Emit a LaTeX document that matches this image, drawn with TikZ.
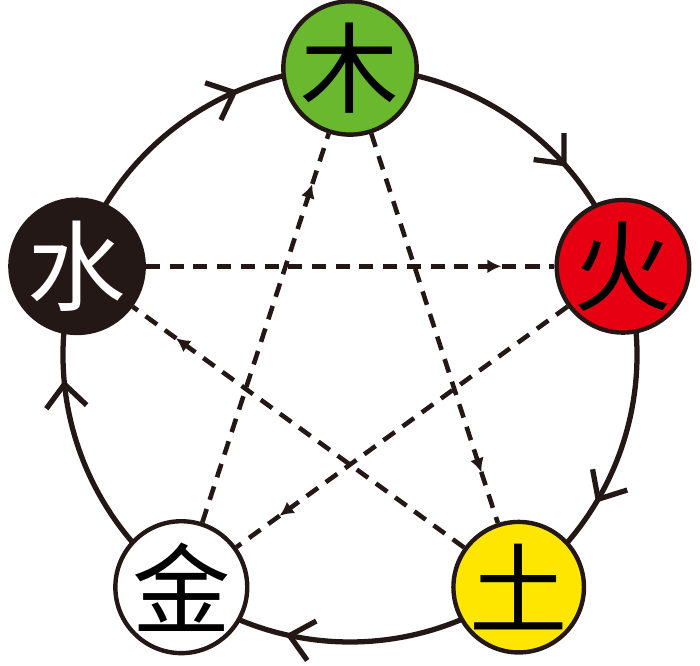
\documentclass[tikz,border=0pt]{standalone}
\usepackage{fontspec}
\newfontfamily\cjk{Noto Sans CJK SC}
\usetikzlibrary{arrows.meta,decorations.markings,backgrounds}
\definecolor{ink}{RGB}{35,24,21}
\definecolor{mugreen}{RGB}{106,184,46}
\definecolor{huored}{RGB}{230,0,18}
\definecolor{tuyellow}{RGB}{255,230,0}
\begin{document}
\begin{tikzpicture}[
    phase/.style={circle,draw=ink,line width=2.5pt,minimum size=2.6cm,
      inner sep=0pt,font=\cjk\fontsize{56}{56}\selectfont},
    shengarc/.style={ink,line width=3pt,postaction={decorate},
      decoration={markings,mark=at position 0.68 with
      {\arrow{Straight Barb[length=13pt,width=23pt,line width=3pt]}}}},
    kearrow/.style={ink,line width=2.6pt,dash pattern=on 8pt off 5.5pt,
      postaction={decorate},decoration={markings,mark=at position 0.87 with
      {\arrow{Latex[length=8pt,width=8pt]}}}},
  ]
  \useasboundingbox (-7,-6.22) rectangle (7,7.1);
  % the five phases
  \node[phase,fill=mugreen] (mu) at (90:5.74) {木};
  \node[phase,fill=huored] (huo) at (18:5.74) {火};
  \node[phase,fill=tuyellow] (tu) at (-54:5.74) {土};
  \node[phase,fill=white] (jin) at (-126:5.74) {金};
  \node[phase,fill=ink,text=white] (shui) at (162:5.74) {水};
  % generating cycle
  \begin{scope}[on background layer]
    \draw[shengarc] (shui.center) arc[start angle=162,end angle=90,radius=5.74];
    \draw[shengarc] (mu.center) arc[start angle=90,end angle=18,radius=5.74];
    \draw[shengarc] (huo.center) arc[start angle=18,end angle=-54,radius=5.74];
    \draw[shengarc] (tu.center) arc[start angle=-54,end angle=-126,radius=5.74];
    \draw[shengarc] (jin.center) arc[start angle=-126,end angle=-198,radius=5.74];
  \end{scope}
  % overcoming cycle
  \draw[kearrow] (shui) -- (huo);
  \draw[kearrow] (huo) -- (jin);
  \draw[kearrow] (jin) -- (mu);
  \draw[kearrow] (mu) -- (tu);
  \draw[kearrow] (tu) -- (shui);
\end{tikzpicture}
\end{document}
